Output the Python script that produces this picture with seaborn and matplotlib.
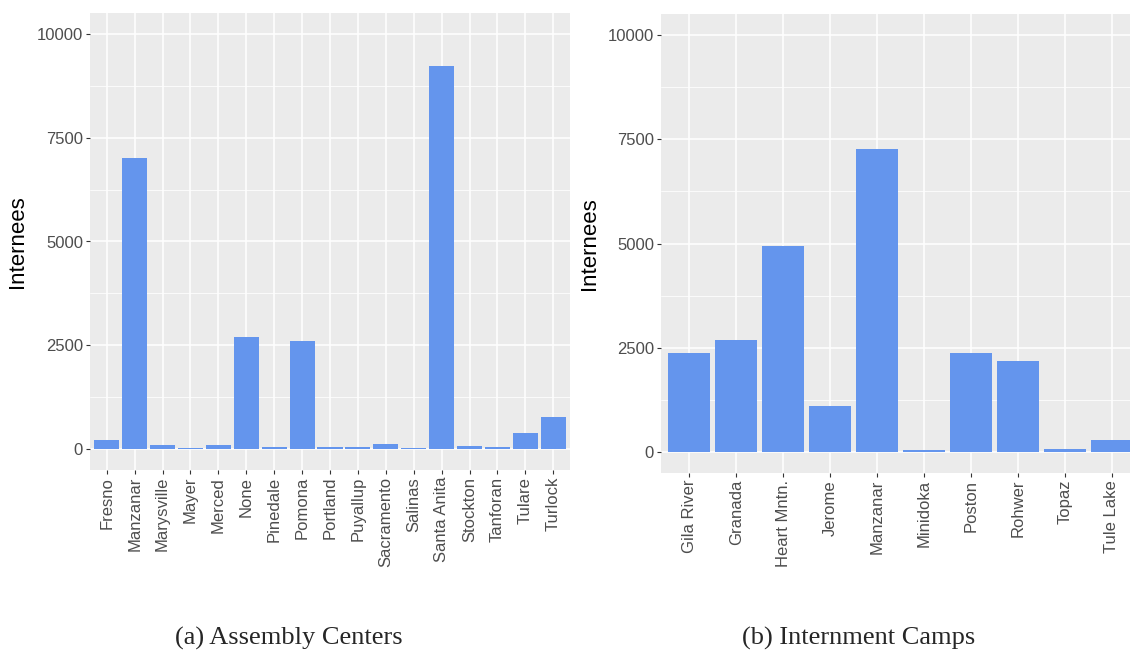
import matplotlib
matplotlib.use("Agg")
import matplotlib.pyplot as plt
import seaborn as sns
import pandas as pd
from matplotlib.ticker import FixedLocator

# Assembly centers (internees per center)
assembly_centers = ["Fresno", "Manzanar", "Marysville", "Mayer", "Merced", "None",
                    "Pinedale", "Pomona", "Portland", "Puyallup", "Sacramento",
                    "Salinas", "Santa Anita", "Stockton", "Tanforan", "Tulare", "Turlock"]
assembly_counts = [225, 7000, 96, 30, 96, 2710, 45, 2600, 45, 45, 128,
                   38, 9230, 72, 48, 385, 770]

# Internment camps (internees per camp)
camps = ["Gila River", "Granada", "Heart Mntn.", "Jerome", "Manzanar",
         "Minidoka", "Poston", "Rohwer", "Topaz", "Tule Lake"]
camp_counts = [2370, 2680, 4950, 1100, 7270, 40, 2370, 2180, 65, 280]

y_ticks = [0, 2500, 5000, 7500, 10000]
captions = ["(a) Assembly Centers", "(b) Internment Camps"]

BAR = "#6495ED"
PANEL = "#EBEBEB"
TICK_TXT = "#4D4D4D"

sns.set_theme(style="white")
plt.rcParams["font.family"] = ["Liberation Sans", "DejaVu Sans"]

W, H = 1130, 652
fig = plt.figure(figsize=(W / 100, H / 100), dpi=100)


def px_axes(left, top, right, bottom):
    return fig.add_axes([left / W, 1 - bottom / H, (right - left) / W, (bottom - top) / H])


def draw_panel(ax, names, counts, label_x):
    df = pd.DataFrame({"name": names, "count": counts})
    sns.barplot(data=df, x="name", y="count", ax=ax, color=BAR, saturation=1,
                width=0.9, edgecolor="none", errorbar=None)
    ax.set_facecolor(PANEL)
    for s in ax.spines.values():
        s.set_visible(False)
    ax.set_xlim(-0.6, len(names) - 0.4)
    ax.set_ylim(-500, 10500)
    ax.yaxis.set_major_locator(FixedLocator(y_ticks))
    ax.yaxis.set_minor_locator(FixedLocator([1250, 3750, 6250, 8750]))
    ax.grid(True, which="major", color="white", linewidth=1.1)
    ax.grid(True, which="minor", axis="y", color="white", linewidth=0.55)
    ax.set_axisbelow(True)
    ax.tick_params(axis="both", which="major", length=3, width=0.8, color="#333333",
                   labelcolor=TICK_TXT, labelsize=12, pad=2, left=True, bottom=True)
    ax.tick_params(axis="y", which="minor", length=0)
    ax.set_xticks(range(len(names)))
    ax.set_xticklabels(names, rotation=90, ha="center", va="top")
    ax.set_xlabel("")
    ax.set_ylabel("Internees", fontsize=16, color="black")
    ax.yaxis.set_label_coords(label_x, 0.5)


ax1 = px_axes(90, 13, 570, 470)
draw_panel(ax1, assembly_centers, assembly_counts, -0.129)
ax2 = px_axes(661, 14, 1140, 473)
draw_panel(ax2, camps, camp_counts, -0.128)

serif = ["Liberation Serif", "DejaVu Serif"]
fig.text(289 / W, 1 - 638 / H, captions[0], ha="center", va="center",
         fontsize=19, family=serif)
fig.text(859 / W, 1 - 638 / H, captions[1], ha="center", va="center",
         fontsize=19, family=serif)

fig.savefig("out.png", dpi=100, facecolor="white")
